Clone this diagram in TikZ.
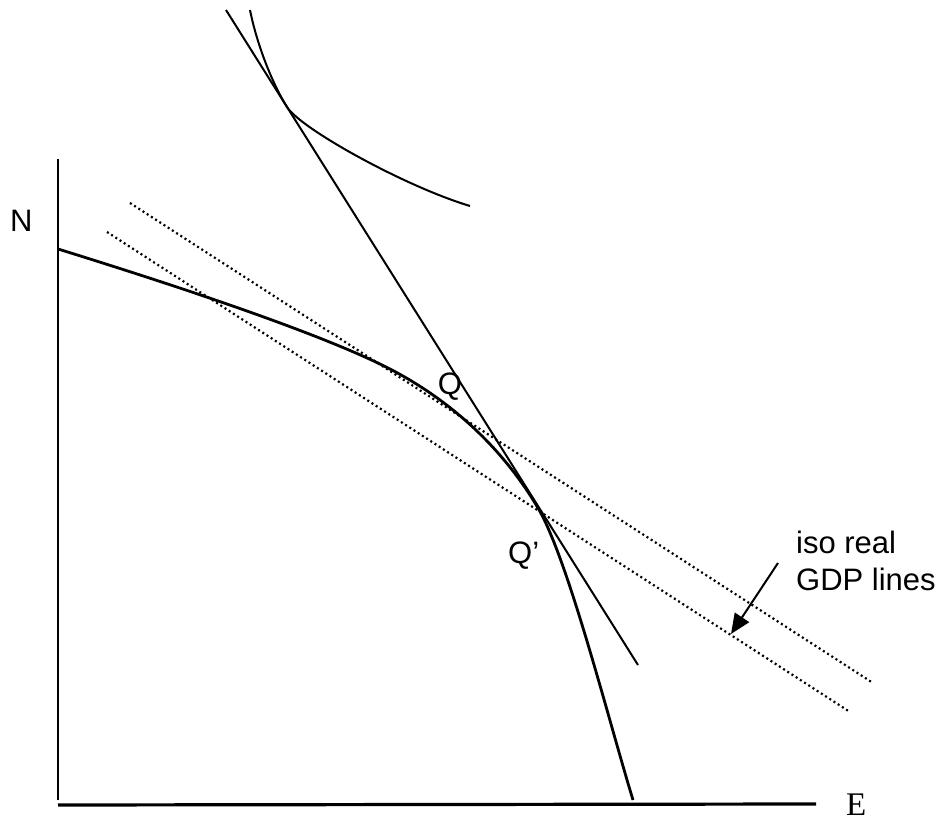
\documentclass[tikz,border=0pt]{standalone}
\usepackage{fontspec}
\setmainfont{Liberation Sans}
\newfontfamily\serifE{Liberation Serif}
\usetikzlibrary{arrows.meta}
\begin{document}
\begin{tikzpicture}[x=1pt,y=-1pt,
  lbl/.style={inner sep=0pt, font=\fontsize{31}{37}\selectfont},
  frontier/.style={line width=2.8pt, line join=round},
  thinline/.style={line width=2pt, line join=round},
  dotline/.style={line width=2.2pt, dash pattern=on 2pt off 3pt},
  pointer/.style={line width=2pt, -{Triangle[length=20pt,width=17pt]}}]
\useasboundingbox (0,0) rectangle (946,821);
% axes
\coordinate (ytop) at (58,159);
\coordinate (ybot) at (58,800);
\coordinate (xleft) at (58,805);
\coordinate (xright) at (816,804);
\draw[line width=2.3pt] (ytop) -- (ybot);
\draw[line width=3.2pt] (xleft) -- (xright);
% iso real GDP lines
\coordinate (d1a) at (130,203);
\coordinate (d1b) at (873,683);
\coordinate (d2a) at (107,232);
\coordinate (d2b) at (850,712);
\draw[dotline] (d1a) -- (d1b);
\draw[dotline] (d2a) -- (d2b);
% production frontier
\coordinate (f0) at (58,249);
\coordinate (f1) at (380,364);
\coordinate (f2) at (538,508);
\coordinate (f3) at (633,800);
\draw[frontier] (f0) .. controls (213.1,297.1) and (320.4,335.4) .. (f1)
  .. controls (446.4,395.9) and (501.7,446.3) .. (f2)
  .. controls (568,559) and (608,718) .. (f3);
% tangent line
\coordinate (ta) at (226,10);
\coordinate (tb) at (638,665);
\draw[thinline] (ta) -- (tb);
% indifference curve
\coordinate (i0) at (250,10);
\coordinate (i1) at (287,107);
\coordinate (i2) at (470,206);
\draw[thinline] (i0) .. controls (256.7,43.4) and (271.5,82.2) .. (i1)
  .. controls (300.6,128.7) and (405,186.5) .. (i2);
% labels
\node[lbl, anchor=base west] (N) at (10,232) {N};
\node[lbl, anchor=base] (Q) at (450,395) {Q};
\node[lbl, anchor=base west] (Qp) at (508,563) {Q’};
\node[inner sep=0pt, anchor=base west, font=\serifE\fontsize{33}{40}\selectfont] (E) at (846,815) {E};
\node[lbl, anchor=base west] (isoA) at (796,553) {iso real};
\node[lbl, anchor=base west] (isoB) at (796,590) {GDP lines};
% arrow
\coordinate (arrS) at (778,563);
\coordinate (arrT) at (731,634);
\draw[pointer] (arrS) -- (arrT);
\end{tikzpicture}
\end{document}
